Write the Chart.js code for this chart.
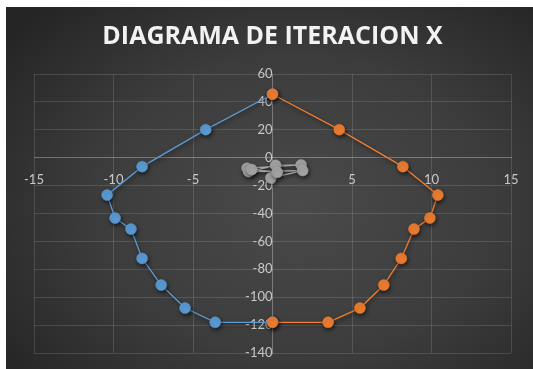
<!DOCTYPE html>
<html>
<head>
<meta charset="utf-8">
<script src="https://cdn.jsdelivr.net/npm/chart.js@4"></script>
<style>
  html, body { margin: 0; padding: 0; background: #fff; }
  #wrap {
    position: absolute; left: 6px; top: 7px; width: 527px; height: 362px;
    background: radial-gradient(ellipse 70% 75% at 55% 55%, #4a4a4a 0%, #3c3c3c 55%, #252525 100%);
  }
</style>
</head>
<body>
<div id="wrap"><canvas id="chart"></canvas></div>
<script>
/* ── DATA ─────────────────────────────────────────────────────── */
const blueX   = [0, -4.2, -8.2, -10.4, -9.9, -8.9, -8.2, -7.0, -5.5, -3.6, 0];
const blueY   = [45.5, 20.1, -6.4, -26.8, -43.3, -51.2, -72.2, -91.3, -107.8, -118, -118];
const orangeX = [0, 4.2, 8.2, 10.4, 9.9, 8.9, 8.1, 7.0, 5.5, 3.5, 0];
const orangeY = [45.5, 20.1, -6.4, -26.8, -43.3, -51.2, -72.2, -91.3, -107.8, -118, -118];
const grayX   = [-1.6, 1.8, 0.2, -1.5, 1.9, -0.1, 0.3, -1.3];
const grayY   = [-7.5, -5.2, -5.5, -10, -9.2, -14.5, -10.5, -8.5];
const xTicks  = [-15, -10, -5, 0, 5, 10, 15];
const yTicks  = [-140, -120, -100, -80, -60, -40, -20, 0, 20, 40, 60];

const toPts = (xs, ys) => xs.map((x, i) => ({ x, y: ys[i] }));

/* ── SHADOW UNDER SERIES ──────────────────────────────────────── */
const shadowPlugin = {
  id: 'shadow',
  beforeDatasetsDraw(chart) {
    const c = chart.ctx;
    c.save();
    c.shadowColor = 'rgba(0,0,0,0.6)';
    c.shadowBlur = 4;
    c.shadowOffsetX = 1;
    c.shadowOffsetY = 2;
  },
  afterDatasetsDraw(chart) { chart.ctx.restore(); }
};

function series(label, pts, color, order) {
  return {
    label, data: pts, order,
    showLine: true,
    borderColor: color, backgroundColor: color,
    borderWidth: 1.3,
    pointRadius: 5.5, pointHoverRadius: 6,
    pointBorderColor: color, pointBackgroundColor: color, pointBorderWidth: 0.5,
  };
}

const zeroCol = 'rgba(255,255,255,0.3)';
const gridCol = ctx => ctx.tick && ctx.tick.value === 0 ? 'rgba(0,0,0,0)' : 'rgba(255,255,255,0.13)';

new Chart(document.getElementById('chart'), {
  type: 'scatter',
  data: {
    datasets: [
      series('Serie 1', toPts(blueX, blueY), '#5b9bd5', 2),
      series('Serie 2', toPts(orangeX, orangeY), '#ed7d31', 1),
      series('Serie 3', toPts(grayX, grayY), '#a5a5a5', 0),
    ]
  },
  options: {
    responsive: true,
    maintainAspectRatio: false,
    animation: false,
    layout: { padding: { left: 28, right: 22, top: 0, bottom: 16 } },
    plugins: {
      legend: { display: false },
      tooltip: { enabled: false },
      title: {
        display: true,
        text: 'DIAGRAMA DE ITERACION X',
        color: '#f2f2f2',
        font: { family: 'Open Sans', size: 25, weight: 'bold' },
        padding: { top: 15, bottom: 22 },
      }
    },
    scales: {
      x: {
        type: 'linear',
        position: { y: 0 },
        min: -15, max: 15,
        afterBuildTicks: s => { s.ticks = xTicks.map(v => ({ value: v })); },
        grid: { color: gridCol, drawTicks: false },
        border: { color: zeroCol, width: 1 },
        ticks: { color: '#c8c8c8', padding: 14, font: { family: 'Lato', size: 13 } },
      },
      y: {
        type: 'linear',
        position: { x: 0 },
        min: -140, max: 60,
        afterBuildTicks: s => { s.ticks = yTicks.map(v => ({ value: v })); },
        // label padding is horizontal only; drop the vertical padding it adds
        afterFit: s => { s.paddingTop = 0; s.paddingBottom = 0; },
        grid: { color: gridCol, drawTicks: false },
        border: { color: zeroCol, width: 1 },
        ticks: { color: '#c8c8c8', padding: 13, font: { family: 'Lato', size: 13 } },
      }
    }
  },
  plugins: [shadowPlugin]
});
</script>
</body>
</html>
